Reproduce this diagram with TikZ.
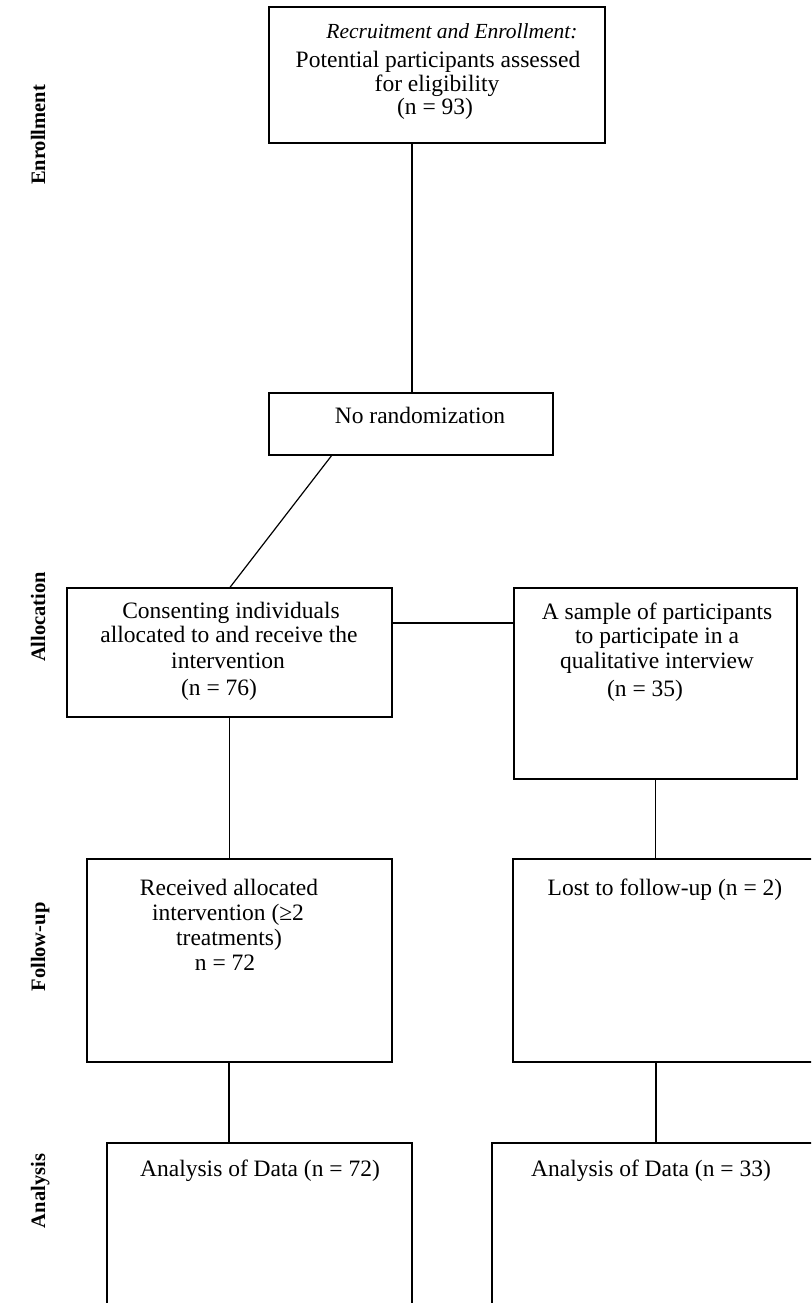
\documentclass[tikz,border=0pt]{standalone}
\usepackage{fontspec}
\setmainfont{Liberation Serif}
\usetikzlibrary{calc}
\begin{document}
\begin{tikzpicture}[x=1pt,y=-1pt,
  box/.style={draw, line width=1.2pt, rectangle, inner sep=0pt, outer sep=0pt, anchor=north west},
  txt/.style={anchor=base, inner sep=0pt, font=\fontsize{23.5}{25}\selectfont},
  itxt/.style={anchor=base, inner sep=0pt, font=\fontsize{21.5}{24}\selectfont\itshape},
  side/.style={anchor=base, rotate=90, inner sep=0pt, font=\fontsize{20.5}{22}\selectfont\bfseries},
  link/.style={line width=1.2pt}]
\useasboundingbox (0,0) rectangle (811,1303);
\clip (0,0) rectangle (811,1303);
% columns
\coordinate (colT) at (412,0);
\coordinate (colL) at (229,0);
\coordinate (colR) at (656,0);
\coordinate (hy) at (0,623);
% boxes
\node[box, minimum width=336pt, minimum height=136pt] (b1) at (269,7) {};
\node[box, minimum width=284pt, minimum height=62pt] (norand) at (269,393) {};
\node[box, minimum width=325pt, minimum height=129pt] (consent) at (67,588) {};
\node[box, minimum width=283pt, minimum height=191pt] (sample) at (514,588) {};
\node[box, minimum width=305pt, minimum height=203pt] (received) at (87,859) {};
\node[box, minimum width=330pt, minimum height=203pt] (lost) at (513,859) {};
\node[box, minimum width=305pt, minimum height=200pt] (anaL) at (107,1143) {};
\node[box, minimum width=340pt, minimum height=200pt] (anaR) at (492,1143) {};
% texts
\node[itxt] (t1a) at (452,39) {Recruitment and Enrollment:};
\node[txt] (t1b) at (438,68) {Potential participants assessed};
\node[txt] (t1c) at (437,92) {for eligibility};
\node[txt] (t1d) at (435,115) {(n = 93)};
\node[txt] (t2) at (420,423) {No randomization};
\node[txt] (t3a) at (231,618) {Consenting individuals};
\node[txt] (t3b) at (229,642) {allocated to and receive the};
\node[txt] (t3c) at (228,668) {intervention};
\node[txt] (t3d) at (219,695) {(n = 76)};
\node[txt] (t4a) at (657,619) {A sample of participants};
\node[txt] (t4b) at (657,643) {to participate in a};
\node[txt] (t4c) at (657,668) {qualitative interview};
\node[txt] (t4d) at (645,696) {(n = 35)};
\node[txt] (t5a) at (229,895) {Received allocated};
\node[txt] (t5b) at (228,920) {intervention (≥2};
\node[txt] (t5c) at (229,945) {treatments)};
\node[txt] (t5d) at (225,970) {n = 72};
\node[txt] (t6) at (665,895) {Lost to follow-up (n = 2)};
\node[txt] (t7) at (260,1176) {Analysis of Data (n = 72)};
\node[txt] (t8) at (651,1176) {Analysis of Data (n = 33)};
% side labels
\node[side] (s1) at (45,135) {Enrollment};
\node[side] (s2) at (45,617) {Allocation};
\node[side] (s3) at (45,947) {Follow-up};
\node[side] (s4) at (45,1191) {Analysis};
% connectors
\draw[link] (b1.south -| colT) -- (norand.north -| colT);
\draw[link] ($(norand.south west)!0.222!(norand.south east)$) -- (consent.north);
\draw[link] (consent.east |- hy) -- (sample.west |- hy);
\draw[link] (consent.south) -- (consent.south |- received.north);
\draw[link] (sample.south) -- (sample.south |- lost.north);
\draw[link] (received.south -| colL) -- (anaL.north -| colL);
\draw[link] (lost.south -| colR) -- (anaR.north -| colR);
\end{tikzpicture}
\end{document}
